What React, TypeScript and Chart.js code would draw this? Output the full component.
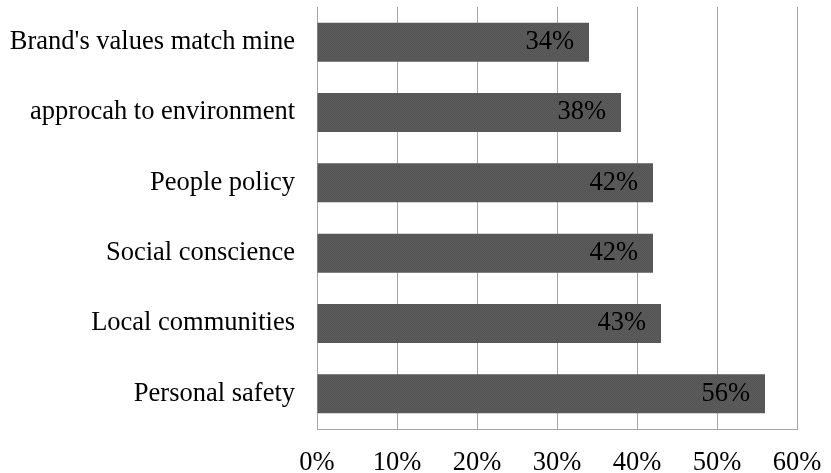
import React, { useEffect, useRef } from "react";
import { Chart, registerables } from "chart.js";

Chart.register(...registerables);

const categories = [
  "Brand's values match mine",
  "approcah to environment",
  "People policy",
  "Social conscience",
  "Local communities",
  "Personal safety",
];
const values = [34, 38, 42, 42, 43, 56];
const valueLabels = ["34%", "38%", "42%", "42%", "43%", "56%"];

const FONT = "'Liberation Serif', 'Times New Roman', serif";
const FONT_SIZE = 26.5;

function makePattern(): CanvasPattern | string {
  const c = document.createElement("canvas");
  c.width = 4;
  c.height = 4;
  const ctx = c.getContext("2d");
  if (!ctx) return "#5a5a5a";
  ctx.fillStyle = "#5b5b5b";
  ctx.fillRect(0, 0, 4, 4);
  ctx.fillStyle = "#555555";
  for (let y = 0; y < 4; y++) {
    for (let x = 0; x < 4; x++) {
      if ((x + y) % 2 === 0) ctx.fillRect(x, y, 1, 1);
    }
  }
  const p = ctx.createPattern(c, "repeat");
  return p || "#5a5a5a";
}

const valueLabelPlugin = {
  id: "valueLabels",
  afterDatasetsDraw(chart: any) {
    const ctx = chart.ctx;
    const meta = chart.getDatasetMeta(0);
    ctx.save();
    ctx.font = `${FONT_SIZE}px ${FONT}`;
    ctx.fillStyle = "#000";
    ctx.textAlign = "right";
    ctx.textBaseline = "middle";
    meta.data.forEach((bar: any, i: number) => {
      ctx.fillText(valueLabels[i], bar.x - 15, bar.y);
    });
    ctx.restore();
  },
};

export default function App() {
  const ref = useRef<HTMLCanvasElement>(null);
  useEffect(() => {
    if (!ref.current) return;
    const chart = new Chart(ref.current, {
      type: "bar",
      data: {
        labels: categories,
        datasets: [
          {
            data: values,
            backgroundColor: makePattern() as any,
            borderWidth: 0,
            barPercentage: 0.555,
            categoryPercentage: 1,
          },
        ],
      },
      options: {
        indexAxis: "y",
        animation: false,
        responsive: false,
        maintainAspectRatio: false,
        layout: { padding: { top: 7, right: 34, left: 0, bottom: 0 } },
        plugins: {
          legend: { display: false },
          tooltip: { enabled: false },
        },
        scales: {
          x: {
            min: 0,
            max: 60,
            ticks: {
              stepSize: 10,
              callback: (v: any) => `${v}%`,
              color: "#000",
              font: { family: FONT, size: FONT_SIZE },
              padding: 18,
              maxRotation: 0,
            },
            grid: { color: "#a6a6a6", drawTicks: false, lineWidth: 1 },
            border: { display: true, color: "#a6a6a6" },
            afterFit: (s: any) => {
              s.height = 44;
              s.paddingLeft = 0;
              s.paddingRight = 0;
            },
          },
          y: {
            ticks: {
              color: "#000",
              font: { family: FONT, size: FONT_SIZE },
              padding: 22,
            },
            grid: { display: false, drawTicks: false },
            border: { display: true, color: "#a6a6a6" },
            afterFit: (s: any) => {
              s.width = 317;
              s.paddingTop = 0;
              s.paddingBottom = 0;
            },
          },
        },
      },
      plugins: [valueLabelPlugin],
    });
    return () => chart.destroy();
  }, []);
  return (
    <div style={{ position: "fixed", left: 0, top: 0, width: 831, height: 473, background: "#fff" }}>
      <canvas ref={ref} width={831} height={473} style={{ width: 831, height: 473 }} />
    </div>
  );
}
